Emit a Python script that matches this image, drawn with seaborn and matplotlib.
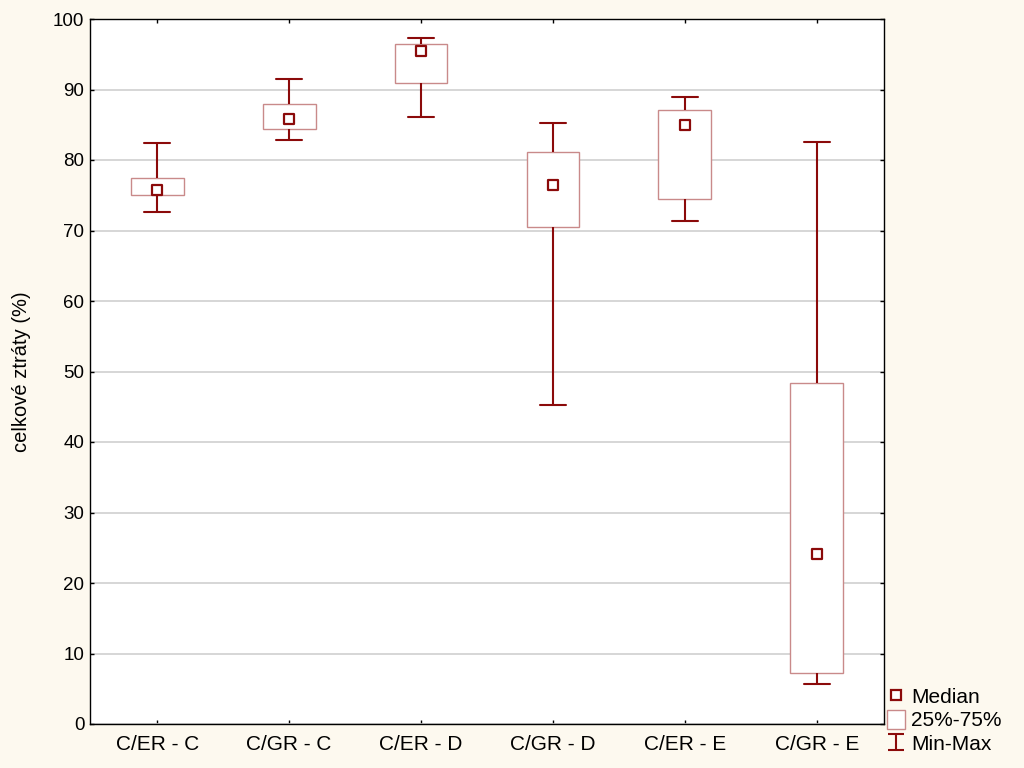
import numpy as np
import pandas as pd
import matplotlib
matplotlib.use("Agg")
import matplotlib.pyplot as plt
from matplotlib.path import Path
from matplotlib.lines import Line2D
from matplotlib.patches import Patch
import seaborn as sns

categories = ["C/ER - C", "C/GR - C", "C/ER - D", "C/GR - D", "C/ER - E", "C/GR - E"]
mins    = [72.6, 82.9, 86.1, 45.2, 71.3, 5.7]
q1s     = [75.1, 84.4, 90.9, 70.5, 74.4, 7.2]
medians = [75.7, 85.8, 95.4, 76.5, 84.9, 24.1]
q3s     = [77.4, 87.9, 96.4, 81.2, 87.1, 48.4]
maxs    = [82.4, 91.5, 97.3, 85.2, 88.9, 82.6]
ylabel = "celkové ztráty (%)"
legend_labels = ["Median", "25%-75%", "Min-Max"]

# long-form table: five summary points per group reproduce min/q1/median/q3/max exactly
rows = []
for c, a, b, m, d, e in zip(categories, mins, q1s, medians, q3s, maxs):
    for v in (a, b, m, d, e):
        rows.append({"group": c, "value": v})
df = pd.DataFrame(rows)
med_df = pd.DataFrame({"group": categories, "value": medians})

sns.set_style("white")
plt.rcParams["font.family"] = ["Liberation Sans", "DejaVu Sans"]
plt.rcParams["text.color"] = "black"
plt.rcParams["axes.labelcolor"] = "black"
plt.rcParams["xtick.color"] = "black"
plt.rcParams["ytick.color"] = "black"

dark = "#8b0a0a"
light = "#c98a8a"
bg = "#fdf9ef"

fig = plt.figure(figsize=(10.24, 7.68), dpi=100, facecolor=bg)
ax = fig.add_axes([90/1024, 1-724/768, (884-90)/1024, (724-19)/768])
ax.set_facecolor("white")

sns.boxplot(data=df, x="group", y="value", order=categories, whis=(0, 100),
            width=0.4, color="white", linecolor=dark, linewidth=1.5,
            boxprops=dict(edgecolor=light, facecolor="white", linewidth=1.0),
            medianprops=dict(linewidth=0, visible=False),
            showfliers=False, ax=ax, zorder=3)
for p in ax.patches:
    p.set_edgecolor(light)
    p.set_linewidth(1.0)

sns.scatterplot(data=med_df, x="group", y="value", marker="s", s=45,
                facecolor="white", edgecolor=dark, linewidth=1.6, ax=ax, zorder=5)

ax.set_xlim(-0.51, 5.51)
ax.set_ylim(0, 100)
ax.set_yticks(np.arange(0, 101, 10))
ax.yaxis.grid(True, color="#d0d0d0", linewidth=1.2, zorder=0)
ax.xaxis.grid(False)
ax.set_axisbelow(True)
ax.set_xlabel("")
ax.set_ylabel(ylabel, fontsize=14.5, labelpad=16)
ax.tick_params(axis="both", direction="in", length=3, width=1,
               left=True, right=True, top=True, bottom=True)
ax.tick_params(axis="y", labelsize=13.5, pad=4)
ax.tick_params(axis="x", labelsize=15, pad=8)
for s in ax.spines.values():
    s.set_color("black")
    s.set_linewidth(1)

ibeam = Path([(-1, 1), (1, 1), (0, 1), (0, -1), (-1, -1), (1, -1)],
             [Path.MOVETO, Path.LINETO, Path.MOVETO, Path.LINETO, Path.MOVETO, Path.LINETO])
handles = [
    Line2D([], [], linestyle="none", marker="s", markersize=6.5, markerfacecolor="white",
           markeredgecolor=dark, markeredgewidth=1.6),
    Patch(facecolor="white", edgecolor=light, linewidth=1.0),
    Line2D([], [], linestyle="none", marker=ibeam, markersize=11, markerfacecolor="none",
           markeredgecolor=dark, markeredgewidth=1.5),
]
fig.legend(handles, legend_labels, loc="lower left", bbox_to_anchor=(887/1024, 14/768),
           frameon=False, fontsize=15, handlelength=0.85, handleheight=1.0,
           handletextpad=0.3, labelspacing=0.15, borderpad=0, borderaxespad=0)

fig.savefig("out.png", dpi=100, facecolor=bg)
